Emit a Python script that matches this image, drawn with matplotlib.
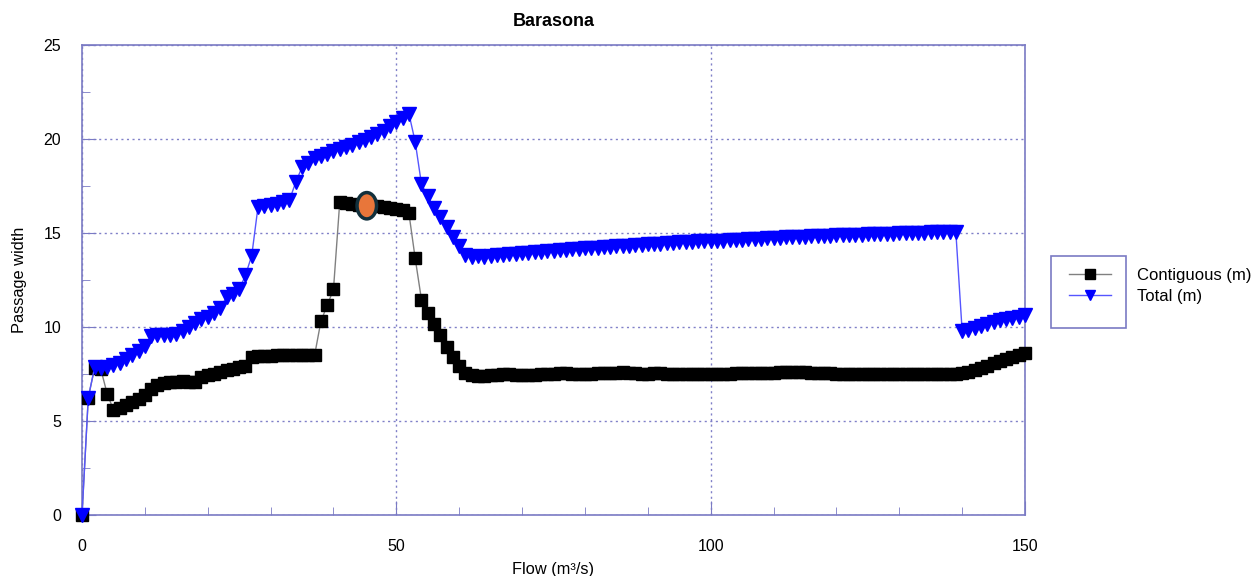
import matplotlib
matplotlib.use('Agg')
import matplotlib.pyplot as plt
from matplotlib.patches import Ellipse, Rectangle
from matplotlib.ticker import MultipleLocator

plt.rcParams['font.family'] = ['Liberation Sans', 'DejaVu Sans']

flow = list(range(0, 151))

contiguous = [
    0, 6.25, 7.8, 7.75, 6.45, 5.6, 5.7, 5.85, 6.0, 6.15,
    6.4, 6.7, 6.9, 7.0, 7.05, 7.1, 7.15, 7.1, 7.05, 7.35,
    7.45, 7.5, 7.6, 7.7, 7.75, 7.85, 7.95, 8.4, 8.45, 8.45,
    8.45, 8.5, 8.5, 8.5, 8.5, 8.5, 8.5, 8.5, 10.3, 11.15,
    12.0, 16.65, 16.6, 16.55, 16.5, 16.5, 16.45, 16.45, 16.4, 16.35,
    16.3, 16.2, 16.05, 13.65, 11.45, 10.75, 10.15, 9.55, 8.95, 8.4,
    7.9, 7.55, 7.45, 7.4, 7.4, 7.45, 7.45, 7.5, 7.5, 7.45,
    7.45, 7.45, 7.45, 7.5, 7.5, 7.5, 7.55, 7.55, 7.5, 7.5,
    7.5, 7.5, 7.55, 7.55, 7.55, 7.55, 7.6, 7.55, 7.55, 7.5,
    7.5, 7.55, 7.55, 7.5, 7.5, 7.5, 7.5, 7.5, 7.5, 7.5,
    7.5, 7.5, 7.5, 7.5, 7.55, 7.55, 7.55, 7.55, 7.55, 7.55,
    7.55, 7.6, 7.6, 7.6, 7.6, 7.6, 7.55, 7.55, 7.55, 7.55,
    7.5, 7.5, 7.5, 7.5, 7.5, 7.5, 7.5, 7.5, 7.5, 7.5,
    7.5, 7.5, 7.5, 7.5, 7.5, 7.5, 7.5, 7.5, 7.5, 7.5,
    7.55, 7.6, 7.7, 7.8, 7.95, 8.1, 8.2, 8.3, 8.4, 8.5,
    8.6,
]

total = [
    0, 6.25, 7.85, 7.8, 7.85, 8.0, 8.1, 8.3, 8.5, 8.7,
    9.0, 9.5, 9.6, 9.55, 9.6, 9.65, 9.8, 10.0, 10.2, 10.4,
    10.55, 10.75, 11.0, 11.6, 11.75, 12.0, 12.75, 13.8, 16.4, 16.45,
    16.5, 16.55, 16.65, 16.75, 17.7, 18.5, 18.75, 19.0, 19.1, 19.2,
    19.35, 19.45, 19.6, 19.7, 19.85, 19.95, 20.1, 20.25, 20.45, 20.7,
    20.9, 21.1, 21.35, 19.85, 17.6, 16.95, 16.35, 15.85, 15.3, 14.8,
    14.3, 13.85, 13.75, 13.8, 13.75, 13.8, 13.85, 13.85, 13.9, 13.9,
    13.95, 13.95, 14.0, 14.0, 14.05, 14.05, 14.1, 14.1, 14.15, 14.15,
    14.2, 14.2, 14.2, 14.25, 14.25, 14.3, 14.3, 14.3, 14.35, 14.35,
    14.4, 14.4, 14.4, 14.45, 14.45, 14.5, 14.5, 14.5, 14.55, 14.55,
    14.6, 14.6, 14.6, 14.65, 14.65, 14.65, 14.7, 14.7, 14.7, 14.75,
    14.75, 14.75, 14.8, 14.8, 14.8, 14.8, 14.85, 14.85, 14.85, 14.85,
    14.9, 14.9, 14.9, 14.9, 14.9, 14.95, 14.95, 14.95, 14.95, 14.95,
    15.0, 15.0, 15.0, 15.0, 15.0, 15.05, 15.05, 15.05, 15.05, 15.05,
    9.8, 9.85, 9.95, 10.05, 10.15, 10.25, 10.35, 10.4, 10.5, 10.55,
    10.65,
]

# highlighted operating point on the contiguous curve
highlight_flow = 45.3
highlight_width = 16.45

frame_col = '#7a7ac4'

fig = plt.figure(figsize=(12.56, 5.76), dpi=100)
ax = fig.add_axes([82 / 1256, 61 / 576, 943 / 1256, 470 / 576])

ax.plot(flow, contiguous, color='#808080', lw=1, marker='s', markersize=9,
        markerfacecolor='black', markeredgecolor='black', clip_on=False,
        label='Contiguous (m)', zorder=3)
ax.plot(flow, total, color='#5555ff', lw=1, marker='v', markersize=9.5,
        markerfacecolor='#0000ff', markeredgecolor='#0000ff', clip_on=False,
        label='Total (m)', zorder=4)

ax.add_patch(Ellipse((highlight_flow, highlight_width), 3.1, 1.4,
                     facecolor='#e8763a', edgecolor='#12303c', lw=2.5, zorder=5))

ax.set_xlim(0, 150)
ax.set_ylim(0, 25)
ax.xaxis.set_major_locator(MultipleLocator(50))
ax.xaxis.set_minor_locator(MultipleLocator(10))
ax.yaxis.set_major_locator(MultipleLocator(5))
ax.yaxis.set_minor_locator(MultipleLocator(2.5))
ax.tick_params(which='major', direction='in', length=10, color=frame_col,
               labelsize=11.5, pad=15)
ax.tick_params(axis='x', which='major', pad=17)
ax.tick_params(which='minor', direction='in', length=5.5, color=frame_col)
for s in ax.spines.values():
    s.set_color(frame_col)
    s.set_linewidth(1.2)
ax.grid(True, which='major', linestyle=(0, (1.5, 2.5)), color='#8080c8', lw=1)

ax.set_title('Barasona', fontsize=13, fontweight='bold', pad=14)
ax.set_xlabel('Flow (m³/s)', fontsize=11.8, labelpad=6)
ax.set_ylabel('Passage width', fontsize=11.8, labelpad=12)

ax.legend(loc='upper left', bbox_to_anchor=(1069 / 1256, 1 - 268 / 576),
          bbox_transform=fig.transFigure, frameon=False, fontsize=12,
          borderpad=0, borderaxespad=0, handlelength=2.5, handletextpad=1.6,
          labelspacing=0.35, markerscale=0.8)
fig.patches.append(Rectangle((1051 / 1256, 1 - 328 / 576), 75 / 1256, 72 / 576,
                             transform=fig.transFigure, fill=False,
                             edgecolor=frame_col, lw=1.2))

fig.savefig('out.png', dpi=100)
